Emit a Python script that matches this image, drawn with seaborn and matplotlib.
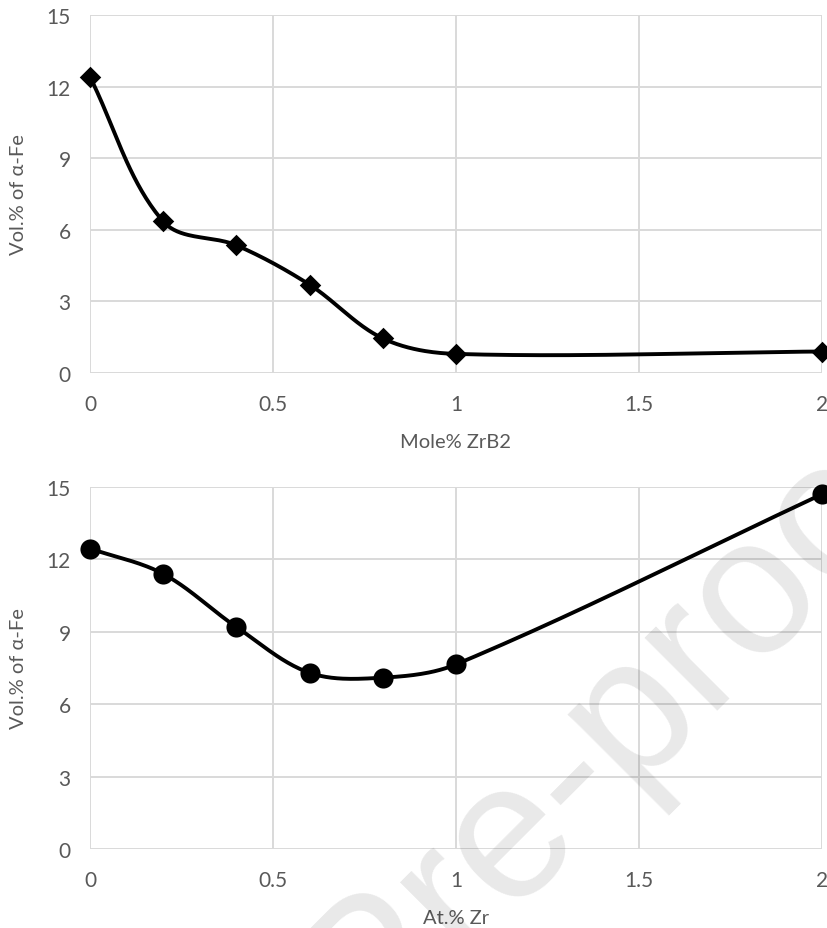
import numpy as np
import pandas as pd
import matplotlib
matplotlib.use("Agg")
import matplotlib.pyplot as plt
import seaborn as sns

# ---- data ----
mole_zrb2 = [0, 0.2, 0.4, 0.6, 0.8, 1, 2]
vol_fe_zrb2 = [12.4, 6.35, 5.35, 3.7, 1.45, 0.8, 0.9]

at_zr = [0, 0.2, 0.4, 0.6, 0.8, 1, 2]
vol_fe_zr = [12.45, 11.4, 9.2, 7.3, 7.1, 7.65, 14.7]

x_ticks = [0, 0.5, 1, 1.5, 2]
x_tick_labels = ["0", "0.5", "1", "1.5", "2"]
y_ticks = [0, 3, 6, 9, 12, 15]
y_tick_labels = ["0", "3", "6", "9", "12", "15"]

sns.set_theme(style="white")
plt.rcParams['font.family'] = ['Lato', 'DejaVu Sans']

W, H = 828, 929
fig = plt.figure(figsize=(W / 100, H / 100), dpi=100)


def smooth(xs, ys, sx, sy, n=40):
    """Excel-like Bezier smoothing through the data points (screen-scaled space)."""
    P = np.column_stack([np.asarray(xs, float) * sx, np.asarray(ys, float) * sy])
    out = []
    m = len(P)

    def unit(v):
        d = np.hypot(*v)
        return v / d if d > 0 else v

    for i in range(m - 1):
        p0 = P[i - 1] if i > 0 else P[i]
        p1 = P[i]
        p2 = P[i + 1]
        p3 = P[i + 2] if i + 2 < m else P[i + 1]
        L = np.hypot(*(p2 - p1))
        c1 = p1 + unit(p2 - p0) * L / 3.0
        c2 = p2 - unit(p3 - p1) * L / 3.0
        t = np.linspace(0, 1, n)[:, None]
        seg = ((1 - t) ** 3) * p1 + 3 * ((1 - t) ** 2) * t * c1 + 3 * (1 - t) * t ** 2 * c2 + t ** 3 * p2
        if i > 0:
            seg = seg[1:]
        out.append(seg)
    S = np.vstack(out)
    return S[:, 0] / sx, S[:, 1] / sy


def panel(rect, xs, ys, marker, msize, xlabel):
    ax = fig.add_axes(rect)
    ax.set_facecolor("none")
    sx = rect[2] * W / 2.0
    sy = rect[3] * H / 15.0
    cx, cy = smooth(xs, ys, sx, sy)
    curve = pd.DataFrame({"x": cx, "y": cy})
    pts = pd.DataFrame({"x": xs, "y": ys})
    sns.lineplot(data=curve, x="x", y="y", ax=ax, color="black", linewidth=2.8,
                 sort=False, estimator=None, zorder=3)
    sns.scatterplot(data=pts, x="x", y="y", ax=ax, color="black", marker=marker,
                    s=msize, edgecolor="black", linewidth=0, zorder=4, clip_on=False)
    ax.set_xlim(0, 2)
    ax.set_ylim(0, 15)
    ax.set_xticks(x_ticks)
    ax.set_xticklabels(x_tick_labels)
    ax.set_yticks(y_ticks)
    ax.set_yticklabels(y_tick_labels)
    ax.grid(True, color="#d9d9d9", linewidth=1.4)
    ax.set_axisbelow(True)
    for s in ax.spines.values():
        s.set_visible(False)
    ax.tick_params(axis="both", length=0, labelsize=15, labelcolor="#595959")
    ax.tick_params(axis="x", pad=15)
    ax.tick_params(axis="y", pad=14)
    ax.set_xlabel(xlabel, fontsize=14.5, color="#595959", labelpad=14)
    ax.set_ylabel("Vol.% of \u03b1-Fe", fontsize=14.5, color="#595959", labelpad=14)
    return ax


ax1 = panel([90 / W, 1 - 374 / H, 732 / W, 358 / H], mole_zrb2, vol_fe_zrb2, "D", 120, "Mole% ZrB2")
ax2 = panel([90 / W, 1 - 850 / H, 732 / W, 362 / H], at_zr, vol_fe_zr, "o", 210, "At.% Zr")

# journal watermark
fig.text(368 / W, 1 - 1045 / H, "Pre-proof", rotation=45, rotation_mode="anchor",
         ha="left", va="baseline", fontsize=140, color="black", alpha=0.09,
         family=["Liberation Sans", "DejaVu Sans"], zorder=10)

fig.savefig("out.png", dpi=100)
